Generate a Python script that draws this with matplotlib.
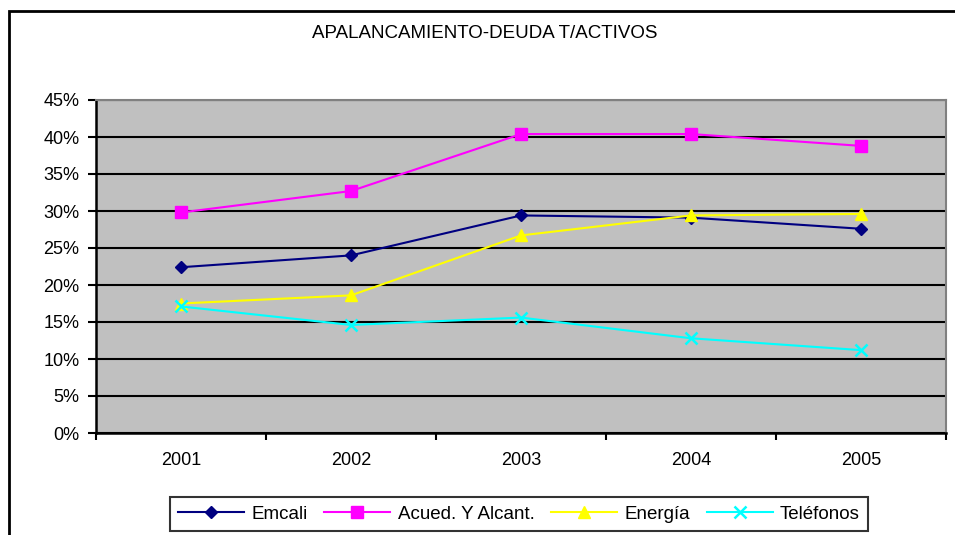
import numpy as np
import matplotlib
matplotlib.use("Agg")
import matplotlib.pyplot as plt
from matplotlib.patches import Rectangle
from matplotlib.ticker import FuncFormatter, FixedLocator

plt.rcParams['font.family'] = ['Liberation Sans', 'DejaVu Sans']

# === Data ===
years = ["2001", "2002", "2003", "2004", "2005"]
emcali = [22.4, 24.0, 29.4, 29.1, 27.6]
acueducto = [29.8, 32.7, 40.4, 40.4, 38.8]
energia = [17.5, 18.6, 26.7, 29.4, 29.6]
telefonos = [17.1, 14.6, 15.6, 12.8, 11.2]

series_names = ["Emcali", "Acued. Y Alcant.", "Energía", "Teléfonos"]
title = "APALANCAMIENTO-DEUDA T/ACTIVOS"

# === Figure ===
W, H = 955, 535
fig = plt.figure(figsize=(W / 100, H / 100), dpi=100)
ax = fig.add_axes([96 / W, (H - 433) / H, 850 / W, 333 / H])
ax.set_facecolor('#C0C0C0')

x = np.arange(len(years))
ax.plot(x, emcali, color='#000080', lw=1.5, marker='D', ms=6.5, label=series_names[0], zorder=3)
ax.plot(x, acueducto, color='#FF00FF', lw=1.5, marker='s', ms=8, label=series_names[1], zorder=3)
ax.plot(x, energia, color='#FFFF00', lw=1.5, marker='^', ms=8, label=series_names[2], zorder=3)
ax.plot(x, telefonos, color='#00FFFF', lw=1.5, marker='x', ms=8, mew=1.8, label=series_names[3], zorder=3)

ax.set_xlim(-0.5, len(years) - 0.5)
ax.set_ylim(0, 45)
ax.set_yticks(np.arange(0, 46, 5))
ax.yaxis.set_major_formatter(FuncFormatter(lambda v, p: f"{v:.0f}%"))
ax.yaxis.grid(True, color='black', lw=1.5)
ax.set_axisbelow(True)

ax.set_xticks(x)
ax.set_xticklabels(years)
ax.xaxis.set_minor_locator(FixedLocator(np.arange(-0.5, len(years), 1.0)))
ax.tick_params(axis='x', which='major', length=0, pad=14, labelsize=13)
ax.tick_params(axis='x', which='minor', length=5, width=1.5, direction='out')
ax.tick_params(axis='y', length=6, width=1.5, direction='out', pad=6, labelsize=13)

for side in ['left', 'bottom']:
    ax.spines[side].set_color('black')
    ax.spines[side].set_linewidth(1.8)
for side in ['top', 'right']:
    ax.spines[side].set_color('#808080')
    ax.spines[side].set_linewidth(1.5)

fig.text(485 / W, 1 - 34 / H, title, ha='center', va='center', fontsize=13.5)

leg = fig.legend(loc='center', bbox_to_anchor=(519 / W, 1 - 514 / H), ncol=4,
                 frameon=True, fancybox=False, edgecolor='black', fontsize=13.5,
                 handlelength=3.5, columnspacing=0.9, handletextpad=0.4,
                 borderpad=0.45)
leg.get_frame().set_linewidth(1.5)

# outer chart border
fig.patches.append(Rectangle((9 / W, -0.1), 1.2, 1 - 11 / H + 0.1, transform=fig.transFigure,
                             fill=False, edgecolor='black', lw=2))

fig.savefig("out.png", dpi=100)
